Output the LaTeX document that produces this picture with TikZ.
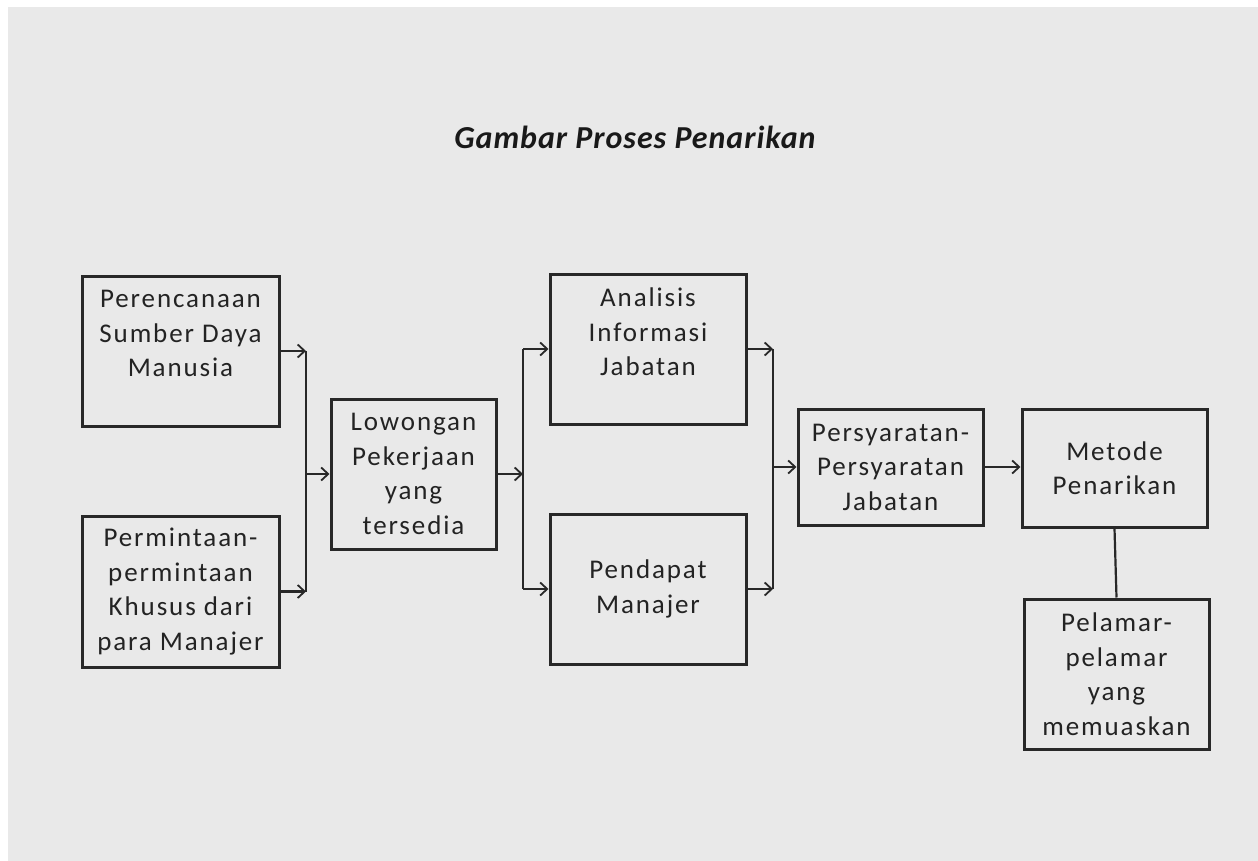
\documentclass[tikz,border=0pt]{standalone}
\usepackage{fontspec}
\setmainfont{Carlito}
\newfontfamily\bodyff[LetterSpace=7]{Carlito}
\newfontfamily\titleff[LetterSpace=3]{Carlito}
\usetikzlibrary{arrows.meta}
\definecolor{bg}{RGB}{233,233,233}
\definecolor{ln}{RGB}{40,40,40}
\definecolor{tx}{RGB}{35,35,35}
\begin{document}
\begin{tikzpicture}[x=1pt,y=-1pt,
  box/.style={draw=ln,line width=3pt,rectangle,inner sep=0pt,align=center,text=tx,
    font=\bodyff\fontsize{27}{34.5}\selectfont},
  conn/.style={draw=ln,line width=2.2pt},
  arr/.style={conn,-{Straight Barb[length=7pt,width=13pt,line width=1.8pt]}}]
\useasboundingbox (0,0) rectangle (1258,861);
\fill[white] (0,0) rectangle (1258,861);
\fill[bg] (8,7) rectangle (1258,861);

\node[font=\titleff\bfseries\itshape\fontsize{32}{38}\selectfont,text=black!90] (title) at (635,137) {Gambar Proses Penarikan};

\node[box,minimum width=197pt,minimum height=150pt] (A) at (180.5,351) {Perencanaan\\Sumber Daya\\Manusia\\\mbox{}};
\node[box,minimum width=197pt,minimum height=151pt] (B) at (180.5,591.5) {Permintaan-\\permintaan\\Khusus dari\\para Manajer};
\node[box,minimum width=165pt,minimum height=150pt] (C) at (413.5,474) {Lowongan\\Pekerjaan\\yang\\tersedia};
\node[box,minimum width=196pt,minimum height=150pt] (D) at (648,349) {Analisis\\Informasi\\Jabatan\\\mbox{}};
\node[box,minimum width=196pt,minimum height=150pt] (E) at (648,589) {Pendapat\\Manajer};
\node[box,minimum width=185pt,minimum height=116pt] (F) at (890.5,467) {Persyaratan-\\Persyaratan\\Jabatan};
\node[box,minimum width=185pt,minimum height=118pt] (G) at (1114.5,468) {Metode\\Penarikan};
\node[box,minimum width=185pt,minimum height=150pt] (H) at (1116.5,674) {Pelamar-\\pelamar\\yang\\memuaskan};

\coordinate (b1) at (306,0);
\coordinate (b2) at (523,0);
\coordinate (b3) at (773,0);

% bracket 1
\draw[arr] (A.east) -- (A.east -| b1);
\draw[arr] (B.east) -- (B.east -| b1);
\draw[conn] (A.east -| b1) -- (B.east -| b1);
\draw[arr] (C.west -| b1) -- (C.west);

% bracket 2
\draw[arr] (C.east) -- (C.east -| b2);
\draw[conn] (D.west -| b2) -- (E.west -| b2);
\draw[arr] (D.west -| b2) -- (D.west);
\draw[arr] (E.west -| b2) -- (E.west);

% bracket 3
\draw[arr] (D.east) -- (D.east -| b3);
\draw[arr] (E.east) -- (E.east -| b3);
\draw[conn] (D.east -| b3) -- (E.east -| b3);
\draw[arr] (F.west -| b3) -- (F.west);

\draw[arr] (F.east) -- (F.east -| G.west);
\draw[conn] (G.south) -- (H.north);
\end{tikzpicture}
\end{document}
